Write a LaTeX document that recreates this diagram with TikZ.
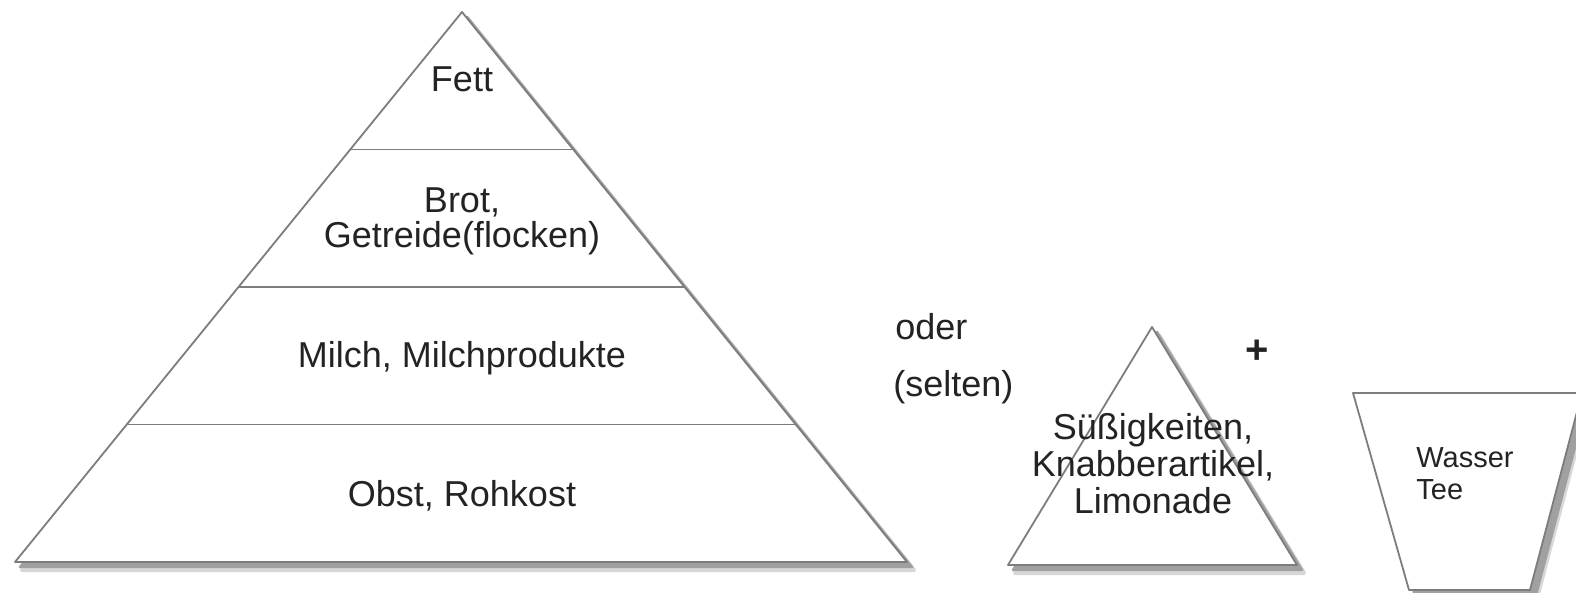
\documentclass[tikz,border=0pt]{standalone}
\usepackage{fontspec}
\setmainfont{Liberation Sans}

\definecolor{edgegray}{RGB}{125,125,125}
\definecolor{shadegray}{RGB}{160,160,160}
\definecolor{softgray}{RGB}{215,215,215}
\definecolor{inkgray}{RGB}{35,35,35}

\tikzset{
	block/.style={draw=edgegray, fill=white, line width=0.9pt, line join=round},
	dropshade/.style={fill=shadegray, draw=shadegray, line width=1.2pt, line join=round, shift={(5,5)}},
	softshade/.style={fill=softgray, draw=softgray, line width=2pt, line join=round, shift={(7,8)}},
	divider/.style={draw=edgegray, line width=0.9pt},
	label/.style={inner sep=0pt, text=inkgray, font=\fontsize{18}{18.5}\selectfont},
}

\begin{document}
\begin{tikzpicture}[x=0.5pt,y=-0.5pt]
	%set diagram to the size of the reference
	\fill[white] (0,0) rectangle (1576,593);
	\useasboundingbox (0,0) rectangle (1576,593);
	
	%Shadow: big pyramid
	\path[softshade] (462,12) -- (907,562) -- (15,562) -- cycle ;
	\path[dropshade] (462,12) -- (907,562) -- (15,562) -- cycle ;
	%Shape: Triangle [big pyramid]
	\path[block] (462,12) -- (907,562) -- (15,562) -- cycle ;
	%Straight Lines [levels]
	\draw[divider] (350.5,149.5) -- (573.5,149.5) ;
	\draw[divider] (239,287) -- (685,287) ;
	\draw[divider] (127.5,424.5) -- (796.5,424.5) ;
	
	%Shadow: small pyramid
	\path[softshade] (1152,327) -- (1297,565) -- (1008,565) -- cycle ;
	\path[dropshade] (1152,327) -- (1297,565) -- (1008,565) -- cycle ;
	%Shape: Triangle [small pyramid]
	\path[block] (1152,327) -- (1297,565) -- (1008,565) -- cycle ;
	
	%Shadow: cup
	\path[softshade] (1353,393) -- (1582,393) -- (1530,590) -- (1409,590) -- cycle ;
	\path[dropshade, shift={(1,0)}] (1353,393) -- (1582,393) -- (1530,590) -- (1409,590) -- cycle ;
	%Shape: Trapezoid [cup]
	\path[block] (1353,393) -- (1582,393) -- (1530,590) -- (1409,590) -- cycle ;
	
	% Text Node
	\draw (462,92) node [label, anchor=base] (fett) {Fett};
	% Text Node
	\draw (462,221) node [label, align=center, font=\fontsize{18}{17.5}\selectfont] (brot) {Brot,\\Getreide(flocken)};
	% Text Node
	\draw (462,368) node [label, anchor=base] (milch) {Milch, Milchprodukte};
	% Text Node
	\draw (462,507) node [label, anchor=base] (obst) {Obst, Rohkost};
	% Text Node
	\draw (895,340) node [label, anchor=base west] (oder) {oder};
	% Text Node
	\draw (893,397) node [label, anchor=base west] (selten) {(selten)};
	% Text Node
	\draw (1257,352) node [label, font=\fontsize{20}{20}\selectfont\bfseries] (plus) {+};
	% Text Node
	\draw (1153,464) node [label, align=center] (suess) {Süßigkeiten,\\Knabberartikel,\\Limonade};
	% Text Node
	\draw (1416,473.5) node [label, anchor=west, align=left, font=\fontsize{14.5}{16}\selectfont] (wasser) {Wasser\\Tee};
	
\end{tikzpicture}
\end{document}
